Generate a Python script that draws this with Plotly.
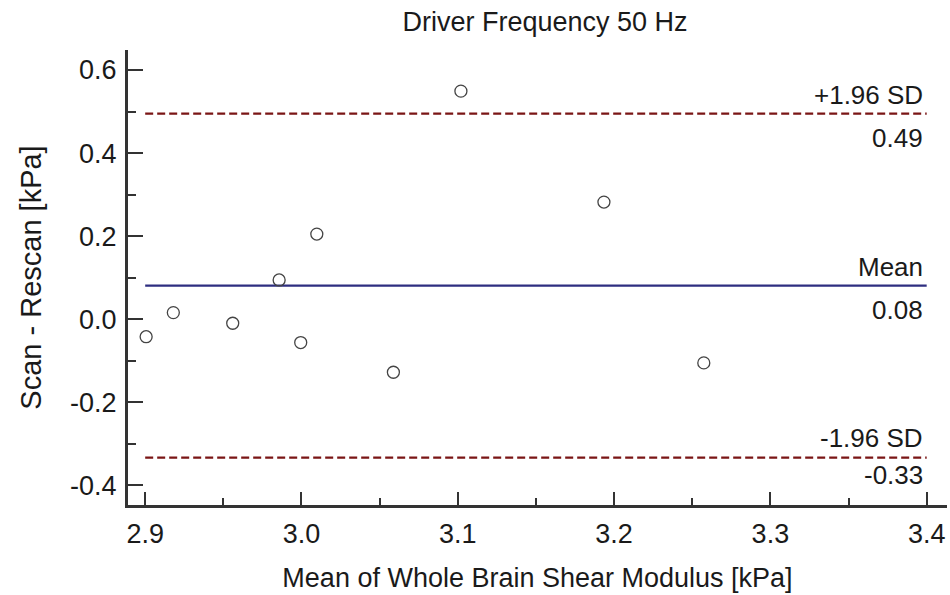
import plotly.graph_objects as go

# Data
mean_values = [2.9006, 2.918, 2.956, 2.9857, 3.0098, 2.9995, 3.0588, 3.102, 3.1935, 3.2574]
diff_values = [-0.042, 0.016, -0.0096, 0.0946, 0.205, -0.056, -0.1275, 0.549, 0.282, -0.105]
bias = 0.081
upper_loa = 0.495
lower_loa = -0.333
line_x = [2.9, 3.4]
x_ticks = [2.9, 3.0, 3.1, 3.2, 3.3, 3.4]
y_ticks = [-0.4, -0.2, 0.0, 0.2, 0.4, 0.6]

FONT = "Liberation Sans, Arial, sans-serif"
TXT = "#1a1a1a"
AX = "#333333"

fig = go.Figure()

fig.add_trace(go.Scatter(x=line_x, y=[upper_loa, upper_loa], mode="lines",
                         line=dict(color="#7a1515", width=2.2, dash="8px,4px"),
                         hoverinfo="skip", showlegend=False))
fig.add_trace(go.Scatter(x=line_x, y=[lower_loa, lower_loa], mode="lines",
                         line=dict(color="#7a1515", width=2.2, dash="8px,4px"),
                         hoverinfo="skip", showlegend=False))
fig.add_trace(go.Scatter(x=line_x, y=[bias, bias], mode="lines",
                         line=dict(color="#2e2e80", width=2.4),
                         hoverinfo="skip", showlegend=False))
fig.add_trace(go.Scatter(x=mean_values, y=diff_values, mode="markers",
                         marker=dict(symbol="circle-open", size=12,
                                     color="#444444", line=dict(width=1.3, color="#444444")),
                         showlegend=False))

labels = [
    ("+1.96 SD", upper_loa, 19),
    (f"{upper_loa:.2f}", upper_loa, -24),
    ("Mean", bias, 19),
    (f"{bias:.2f}", bias, -24),
    ("-1.96 SD", lower_loa, 20),
    (f"{lower_loa:.2f}", lower_loa, -17),
]
for text, yv, shift in labels:
    fig.add_annotation(x=line_x[1], y=yv, xref="x", yref="y", text=text,
                       showarrow=False, xanchor="right", yanchor="middle",
                       xshift=-2, yshift=shift,
                       font=dict(family=FONT, size=26, color=TXT))

fig.update_layout(
    width=950, height=595,
    margin=dict(l=128, r=3, t=50, b=90),
    paper_bgcolor="white", plot_bgcolor="white",
    title=dict(text="Driver Frequency 50 Hz", x=545 / 950, xanchor="center",
               y=1 - 22 / 595, yanchor="middle",
               font=dict(family=FONT, size=27, color=TXT)),
    font=dict(family=FONT, color=TXT),
)

fig.update_xaxes(
    range=[2.889, 3.413], showgrid=False, zeroline=False,
    showline=True, linewidth=3, linecolor=AX,
    tickmode="array", tickvals=x_ticks, ticktext=[f"{v:.1f}" for v in x_ticks],
    ticks="inside", ticklen=13, tickwidth=2, tickcolor=AX,
    minor=dict(ticks="inside", ticklen=7, tickwidth=2, tickcolor=AX, dtick=0.05, tick0=2.9),
    tickfont=dict(family=FONT, size=27, color=TXT),
    ticklabelstandoff=3,
    title=dict(text="Mean of Whole Brain Shear Modulus [kPa]",
               font=dict(family=FONT, size=27, color=TXT), standoff=20),
)
fig.update_yaxes(
    range=[-0.447, 0.648], showgrid=False, zeroline=False,
    showline=True, linewidth=3, linecolor=AX,
    tickmode="array", tickvals=y_ticks, ticktext=[f"{v:.1f}" for v in y_ticks],
    ticks="inside", ticklen=15, tickwidth=2, tickcolor=AX,
    minor=dict(ticks="inside", ticklen=8, tickwidth=2, tickcolor=AX, dtick=0.1, tick0=0),
    tickfont=dict(family=FONT, size=27, color=TXT),
    ticklabelstandoff=3,
    title=dict(text="Scan - Rescan [kPa]",
               font=dict(family=FONT, size=29, color=TXT), standoff=20),
)

fig.write_html("out.html")
